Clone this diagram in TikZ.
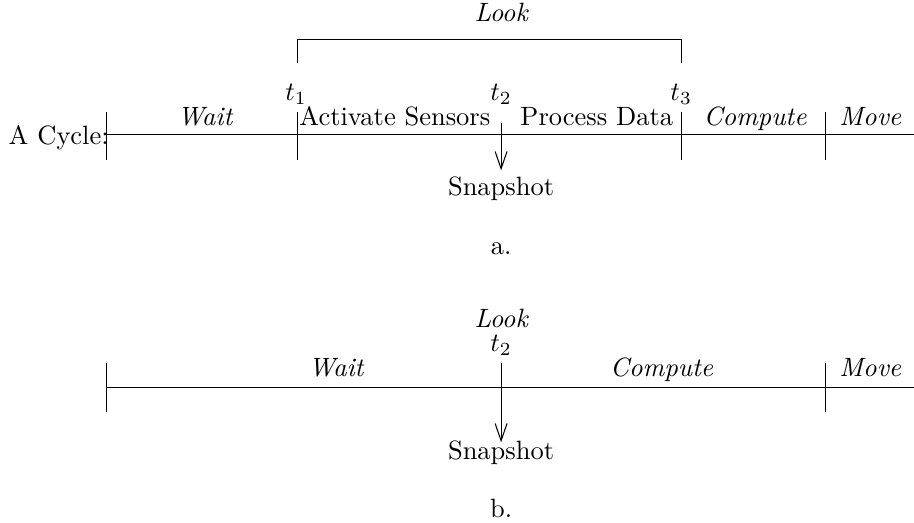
\documentclass[tikz,border=0pt]{standalone}
\usepackage{amsmath,amssymb}
\usetikzlibrary{positioning, arrows.meta}

\begin{document}
\begin{tikzpicture}[
    >={Straight Barb[length=6.5pt, width=4.5pt]},
    lbl/.style={anchor=base, inner sep=0pt},
    phase/.style={lbl, font=\itshape},
    tick/.style={draw}
]
    \useasboundingbox (0,0) rectangle (12.13,-6.93);

    % a. -- the look phase split up
    \coordinate (a0) at (1.41,-1.79);
    \coordinate (a1) at (3.95,-1.79);
    \coordinate (a2) at (6.65,-1.79);
    \coordinate (a3) at (9.05,-1.79);
    \coordinate (a4) at (10.96,-1.79);
    \coordinate (aE) at (12.13,-1.79);

    \draw (a0) -- (aE);
    \foreach \c in {a0,a1,a3,a4}
        \draw[tick] ([yshift=0.31cm]\c) -- ([yshift=-0.33cm]\c);
    \draw (a2) -- ++(0,0.16);
    \draw[->] (a2) -- ++(0,-0.47);

    \node[lbl, anchor=base east] (cyc) at (1.45,-1.92) {A Cycle:};
    \node[phase] (waitA)  at (2.72,-1.66) {Wait};
    \node[lbl]   (actA)   at (5.24,-1.66) {Activate Sensors};
    \node[lbl]   (procA)  at (7.92,-1.66) {Process Data};
    \node[phase] (compA)  at (10.02,-1.66) {Compute};
    \node[phase] (moveA)  at (11.55,-1.66) {Move};
    \node[lbl]   (t1)     at (3.93,-1.34) {$t_1$};
    \node[lbl]   (t2A)    at (6.65,-1.34) {$t_2$};
    \node[lbl]   (t3)     at (9.04,-1.34) {$t_3$};

    \draw (3.95,-0.84) |- (9.05,-0.53) -- (9.05,-0.84);
    \node[phase] (lookA) at (6.65,-0.29) {Look};

    \node[lbl] (snapA) at (6.65,-2.60) {Snapshot};
    \node[lbl] (capA)  at (6.65,-3.38) {a.};

    % b. -- the look phase is instantaneous
    \coordinate (b0) at (1.41,-5.14);
    \coordinate (b2) at (6.65,-5.14);
    \coordinate (b4) at (10.96,-5.14);
    \coordinate (bE) at (12.13,-5.14);

    \draw (b0) -- (bE);
    \foreach \c in {b0,b4}
        \draw[tick] ([yshift=0.32cm]\c) -- ([yshift=-0.33cm]\c);
    \draw (b2) -- ++(0,0.32);
    \draw[->] (b2) -- ++(0,-0.73);

    \node[phase] (waitB) at (4.46,-4.99) {Wait};
    \node[phase] (compB) at (8.78,-4.99) {Compute};
    \node[phase] (moveB) at (11.55,-4.99) {Move};
    \node[lbl]   (t2B)   at (6.65,-4.67) {$t_2$};
    \node[phase] (lookB) at (6.65,-4.34) {Look};

    \node[lbl] (snapB) at (6.65,-6.10) {Snapshot};
    \node[lbl] (capB)  at (6.65,-6.87) {b.};
\end{tikzpicture}
\end{document}
